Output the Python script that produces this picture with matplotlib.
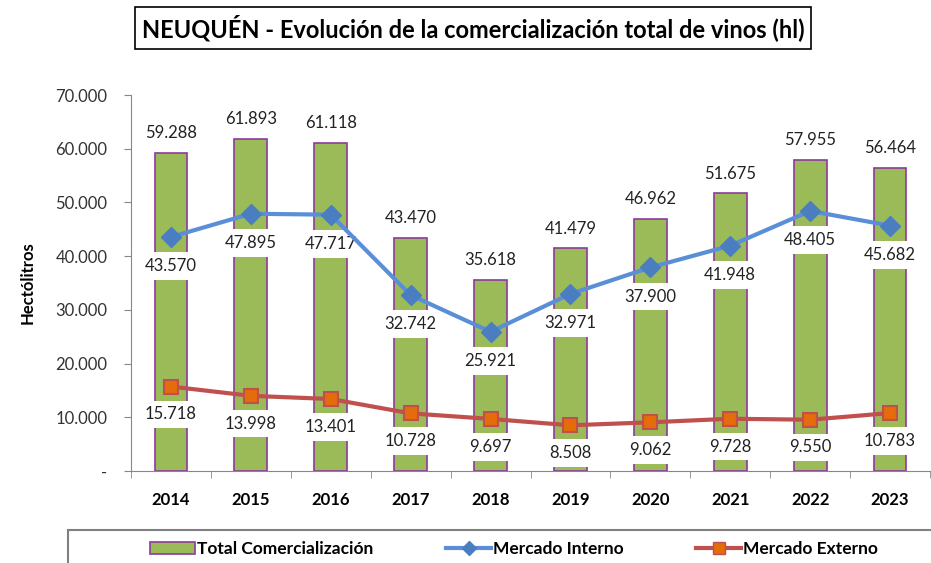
import matplotlib
matplotlib.use('Agg')
import matplotlib.pyplot as plt
from matplotlib.patches import Rectangle
from matplotlib.lines import Line2D
import numpy as np

years = ['2014', '2015', '2016', '2017', '2018', '2019', '2020', '2021', '2022', '2023']
total = [59288, 61893, 61118, 43470, 35618, 41479, 46962, 51675, 57955, 56464]
interno = [43570, 47895, 47717, 32742, 25921, 32971, 37900, 41948, 48405, 45682]
externo = [15718, 13998, 13401, 10728, 9697, 8508, 9062, 9728, 9550, 10783]

plt.rcParams['font.family'] = ['Lato', 'DejaVu Sans']


def fmt(v):
    return '{:,}'.format(v).replace(',', '.')


fig = plt.figure(figsize=(9.31, 5.63), dpi=100)
ax = fig.add_axes([131 / 931, 1 - 471 / 563, 799 / 931, 376 / 563])

x = np.arange(len(years))
ax.bar(x, total, width=0.41, color='#9BBB59', edgecolor='#8E3A9D', linewidth=1.2, zorder=1)
ax.plot(x, interno, color='#5A8FD8', linewidth=3, marker='D', markersize=10,
        markerfacecolor='#4A7EC0', markeredgecolor='#4A7EC0', zorder=3)
ax.plot(x, externo, color='#C0504D', linewidth=3, marker='s', markersize=10,
        markerfacecolor='#E46C0A', markeredgecolor='#C0504D', markeredgewidth=1.5, zorder=3)

box = dict(boxstyle='square,pad=0.35', facecolor='white', edgecolor='none')
for i in range(len(years)):
    ax.annotate(fmt(total[i]), (x[i], total[i]), xytext=(0, 14), textcoords='offset points',
                ha='center', va='center', fontsize=12, color='#222222', zorder=4)
    ax.annotate(fmt(interno[i]), (x[i], interno[i]), xytext=(0, -21), textcoords='offset points',
                ha='center', va='center', fontsize=12, color='#222222', bbox=box, zorder=2)
    ax.annotate(fmt(externo[i]), (x[i], externo[i]), xytext=(0, -20), textcoords='offset points',
                ha='center', va='center', fontsize=12, color='#222222', bbox=box, zorder=2)

ax.set_xlim(-0.5, len(years) - 0.5)
ax.set_ylim(0, 70000)
ax.set_yticks(np.arange(0, 70001, 10000))
ax.set_yticklabels(['-'] + [fmt(v) for v in range(10000, 70001, 10000)], fontsize=12, color='#333333')
ax.set_xticks(x)
ax.set_xticklabels(years, fontsize=12, fontweight='bold')
ax.set_xticks(np.arange(-0.5, len(years)), minor=True)
ax.tick_params(axis='x', which='major', length=0, pad=15)
ax.tick_params(axis='x', which='minor', length=5, color='#888888')
ax.tick_params(axis='y', length=5, color='#888888', pad=12)
for s in ['top', 'right']:
    ax.spines[s].set_visible(False)
for s in ['left', 'bottom']:
    ax.spines[s].set_color('#888888')
ax.set_ylabel('Hectólitros', fontsize=12, fontweight='bold', labelpad=14)

fig.text(473 / 931, 1 - 28 / 563, 'NEUQUÉN - Evolución de la comercialización total de vinos (hl)',
         ha='center', va='center', fontsize=17, fontweight='bold',
         bbox=dict(boxstyle='square,pad=0.3', facecolor='white', edgecolor='black', linewidth=1.2))

# legend frame at the bottom
fig.patches.append(Rectangle((68 / 931, -0.05), 1.0, 1 - 530 / 563 + 0.05, transform=fig.transFigure,
                             facecolor='none', edgecolor='#808080', linewidth=1.5))
handles = [
    Rectangle((0, 0), 1, 1, facecolor='#9BBB59', edgecolor='#8E3A9D', linewidth=1.2),
    Line2D([], [], color='#5A8FD8', linewidth=3, marker='D', markersize=7,
           markerfacecolor='#4A7EC0', markeredgecolor='#4A7EC0'),
    Line2D([], [], color='#C0504D', linewidth=3, marker='s', markersize=8,
           markerfacecolor='#E46C0A', markeredgecolor='#C0504D'),
]
fig.legend(handles, ['Total Comercialización', 'Mercado Interno', 'Mercado Externo'],
           loc='center', bbox_to_anchor=(514 / 931, 1 - 549 / 563), ncol=3, frameon=False,
           prop={'size': 12.5, 'weight': 'bold'}, handlelength=2.6, handletextpad=0.1,
           columnspacing=4.2)

fig.savefig('out.png', dpi=100)
